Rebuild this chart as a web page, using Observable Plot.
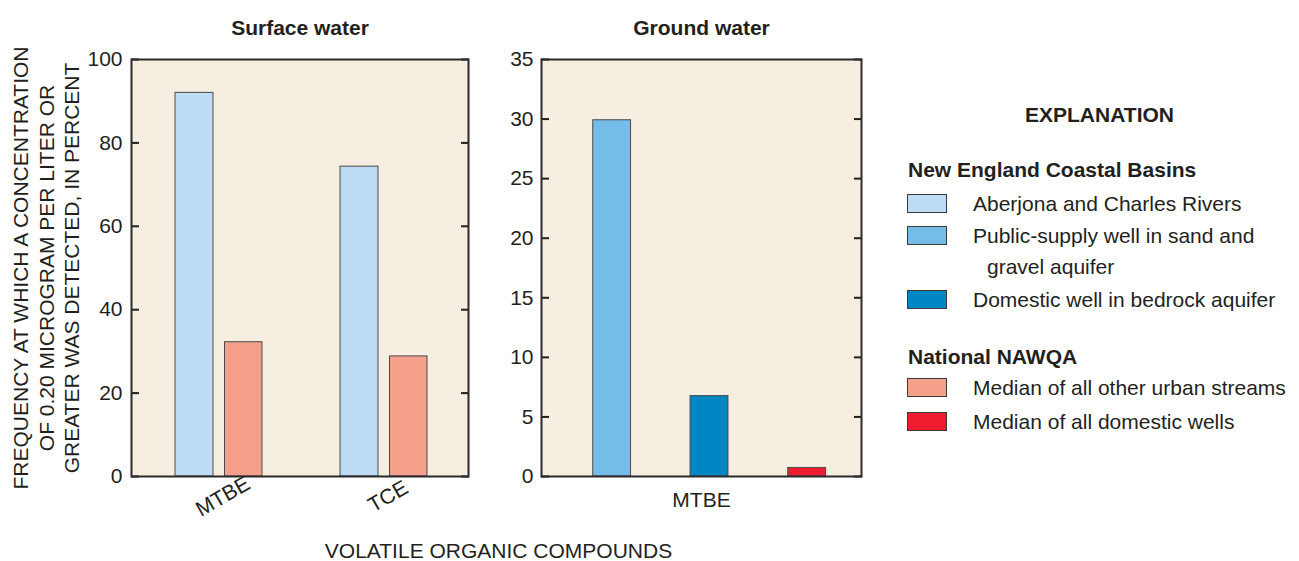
<!DOCTYPE html>
<html><head><meta charset="utf-8">
<script src="https://cdn.jsdelivr.net/npm/d3@7"></script>
<script src="https://cdn.jsdelivr.net/npm/@observablehq/plot@0.6"></script>
<style>
body{margin:0;background:#fff;font-family:"Liberation Sans",Arial,Helvetica,sans-serif;color:#231f20}
#wrap{position:relative;width:1299px;height:561px;overflow:hidden;background:#fff}
#wrap svg{position:absolute;top:0;overflow:visible}
.t{position:absolute;white-space:nowrap;font-size:21px;height:24px;line-height:24px;color:#231f20}
.b{font-weight:bold}
.sw{position:absolute;width:38px;height:17px;border:1px solid #3a3a3a;box-sizing:content-box}
</style></head><body><div id="wrap"></div>
<script>
// ---- data ----
const surfaceCompounds = ["MTBE", "TCE"];
const surfaceRegional = [92.0, 74.3];   // Aberjona and Charles Rivers
const surfaceNational = [32.2, 28.8];   // Median of all other urban streams
const groundCompounds = ["MTBE"];
const groundPublic = [29.9];            // Public-supply well in sand and gravel aquifer
const groundDomestic = [6.75];          // Domestic well in bedrock aquifer
const groundNational = [0.72];          // Median of all domestic wells
const surfaceTicks = [0, 20, 40, 60, 80, 100];
const groundTicks = [0, 5, 10, 15, 20, 25, 30, 35];
const panelTitles = ["Surface water", "Ground water"];
const yLabel = "FREQUENCY AT WHICH A CONCENTRATION\nOF 0.20 MICROGRAM PER LITER OR\nGREATER WAS DETECTED, IN PERCENT";
const xLabel = "VOLATILE ORGANIC COMPOUNDS";
const legendGroups = ["New England Coastal Basins", "National NAWQA"];
const seriesNames = ["Aberjona and Charles Rivers", "Public-supply well in sand and\ngravel aquifer", "Domestic well in bedrock aquifer", "Median of all other urban streams", "Median of all domestic wells"];
const seriesColors = ["#bddcf3", "#75bde9", "#0086c3", "#f4a08b", "#ee1c2e"];

const bg = "#f6eee0";
const ink = "#231f20";
const barStroke = "#4a4a4a";
const font = '"Liberation Sans", Arial, Helvetica, sans-serif';

const rows = (compounds, values) => compounds.map((c, i) => ({compound: c, value: values[i]}));

const wrap = document.getElementById("wrap");

// ---- Surface water panel ----
const left = Plot.plot({
  width: 490, height: 561,
  marginLeft: 131, marginRight: 22, marginTop: 59, marginBottom: 85,
  style: {fontFamily: font, fontSize: "21px", color: ink, background: "transparent", overflow: "visible"},
  x: {type: "band", domain: surfaceCompounds, range: [135.25, 466.25], padding: 0},
  y: {domain: [0, 100]},
  marks: [
    Plot.frame({fill: bg, stroke: null}),
    Plot.barY(rows(surfaceCompounds, surfaceRegional), {x: "compound", y: "value", fill: seriesColors[0], stroke: barStroke, strokeWidth: 1, insetLeft: 39, insetRight: 88}),
    Plot.barY(rows(surfaceCompounds, surfaceNational), {x: "compound", y: "value", fill: seriesColors[3], stroke: barStroke, strokeWidth: 1, insetLeft: 88.5, insetRight: 39}),
    Plot.axisY(surfaceTicks, {anchor: "left", tickSize: -8, tickPadding: 17, strokeWidth: 2, label: null}),
    Plot.axisY(surfaceTicks, {anchor: "right", tickSize: -8, strokeWidth: 2, tickFormat: () => "", label: null}),
    Plot.axisX({tickSize: 0, tickRotate: -30, textAnchor: "middle", tickPadding: 20, dx: 4, label: null}),
    Plot.frame({stroke: "#2b2b2b", strokeWidth: 2}),
    Plot.text([panelTitles[0]], {frameAnchor: "top", dy: -39, fontWeight: "bold", fontSize: 21}),
    Plot.text([yLabel], {frameAnchor: "left", textAnchor: "middle", lineAnchor: "middle", rotate: -90, dx: -86, fontSize: 21, lineHeight: 1.2})
  ]
});
left.style.left = "0px";
wrap.appendChild(left);

// ---- Ground water panel ----
const right = Plot.plot({
  width: 400, height: 561,
  marginLeft: 51, marginRight: 29, marginTop: 59, marginBottom: 85,
  style: {fontFamily: font, fontSize: "21px", color: ink, background: "transparent", overflow: "visible"},
  x: {type: "band", domain: groundCompounds, range: [72.25, 364.75], padding: 0},
  y: {domain: [0, 35]},
  marks: [
    Plot.frame({fill: bg, stroke: null}),
    Plot.barY(rows(groundCompounds, groundPublic), {x: "compound", y: "value", fill: seriesColors[1], stroke: barStroke, strokeWidth: 1, insetLeft: 29.75, insetRight: 224.45}),
    Plot.barY(rows(groundCompounds, groundDomestic), {x: "compound", y: "value", fill: seriesColors[2], stroke: barStroke, strokeWidth: 1, insetLeft: 127.05, insetRight: 127.05}),
    Plot.barY(rows(groundCompounds, groundNational), {x: "compound", y: "value", fill: seriesColors[4], stroke: barStroke, strokeWidth: 1, insetLeft: 224.75, insetRight: 29.45}),
    Plot.axisY(groundTicks, {anchor: "left", tickSize: -8, tickPadding: 16, strokeWidth: 2, label: null}),
    Plot.axisY(groundTicks, {anchor: "right", tickSize: -8, strokeWidth: 2, tickFormat: () => "", label: null}),
    Plot.axisX({tickSize: 0, tickPadding: 16, dx: -8, label: null}),
    Plot.frame({stroke: "#2b2b2b", strokeWidth: 2}),
    Plot.text([panelTitles[1]], {frameAnchor: "top", dy: -39, fontWeight: "bold", fontSize: 21})
  ]
});
right.style.left = "490px";
wrap.appendChild(right);

// ---- shared x-axis title and legend ----
function addText(txt, x, cy, cls, center) {
  const d = document.createElement("div");
  d.className = "t " + (cls || "");
  d.textContent = txt;
  d.style.top = (cy - 12) + "px";
  if (center) { d.style.left = (x - 300) + "px"; d.style.width = "600px"; d.style.textAlign = "center"; }
  else d.style.left = x + "px";
  wrap.appendChild(d);
}
function addSwatch(color, top) {
  const d = document.createElement("div");
  d.className = "sw";
  d.style.left = "907px";
  d.style.top = top + "px";
  d.style.background = color;
  wrap.appendChild(d);
}
addText(xLabel, 498.5, 551, "", true);
addText("EXPLANATION", 1099.5, 114.5, "b", true);
addText(legendGroups[0], 908, 170, "b");
addSwatch(seriesColors[0], 194); addText(seriesNames[0], 973, 203.5);
addSwatch(seriesColors[1], 226);
const pl = seriesNames[1].split("\n");
addText(pl[0], 973, 235.5); addText(pl[1], 987, 267);
addSwatch(seriesColors[2], 290); addText(seriesNames[2], 973, 299.5);
addText(legendGroups[1], 908, 357, "b");
addSwatch(seriesColors[3], 378); addText(seriesNames[3], 973, 387.5);
addSwatch(seriesColors[4], 412); addText(seriesNames[4], 973, 421.5);
</script></body></html>
